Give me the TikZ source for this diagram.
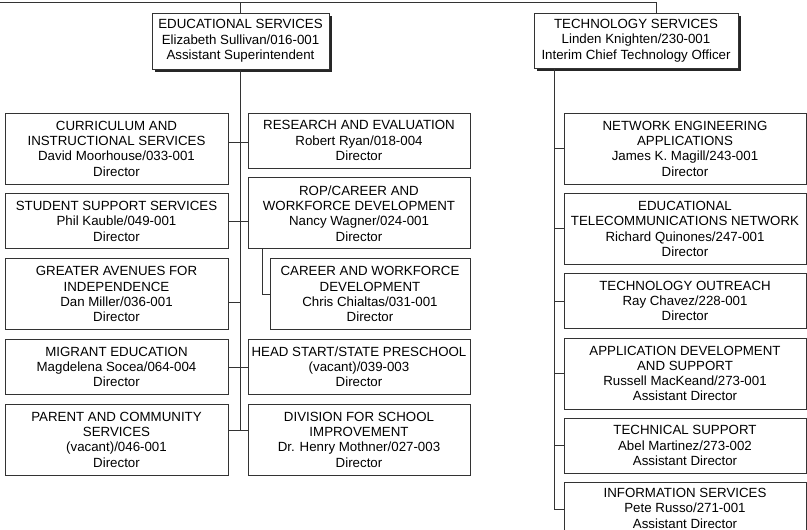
\documentclass[tikz,border=0pt]{standalone}
\usepackage{fontspec}
\setmainfont{Liberation Sans}
\usetikzlibrary{positioning,shadows}
\tikzstyle{unit} = [rectangle, draw=black!80, line width=0.8pt, fill=white, align=center, inner sep=1pt, font=\fontsize{13.3}{15.3}\selectfont]
\tikzstyle{head} = [unit, drop shadow={shadow xshift=2.5pt, shadow yshift=-2.5pt, fill=black!85, opacity=1}]
\tikzstyle{leftbox} = [unit, minimum width=223pt]
\tikzstyle{midbox} = [unit, minimum width=222pt]
\tikzstyle{subbox} = [unit, minimum width=200pt]
\tikzstyle{techbox} = [unit, minimum width=242pt]
\tikzstyle{tall} = [minimum height=71pt]
\tikzstyle{short} = [minimum height=55pt]
\tikzstyle{link} = [draw=black!80, line width=0.8pt]

\begin{document}
\begin{tikzpicture}[x=1pt,y=-1pt]
		\useasboundingbox (0,0) rectangle (807,530);
		\clip (0,0) rectangle (807,530);
		
		\node (edu-services) [head,minimum width=177pt,minimum height=56pt] at (240.5,41) {EDUCATIONAL SERVICES\\Elizabeth Sullivan/016-001\\Assistant Superintendent};
		\node (tech-services) [head,minimum width=204pt,minimum height=55pt] at (636,40.5) {TECHNOLOGY SERVICES\\Linden Knighten/230-001\\Interim Chief Technology Officer};
		
		% left column
		\node (curriculum) [leftbox,tall] at (116.5,148.5) {CURRICULUM AND\\INSTRUCTIONAL SERVICES\\David Moorhouse/033-001\\Director};
		\node (student-support) [leftbox,short,below=9pt of curriculum] {STUDENT SUPPORT SERVICES\\Phil Kauble/049-001\\Director};
		\node (greater-avenues) [leftbox,tall,below=9pt of student-support] {GREATER AVENUES FOR\\INDEPENDENCE\\Dan Miller/036-001\\Director};
		\node (migrant) [leftbox,short,below=9pt of greater-avenues] {MIGRANT EDUCATION\\Magdelena Socea/064-004\\Director};
		\node (parent) [leftbox,tall,below=9pt of migrant] {PARENT AND COMMUNITY\\SERVICES\\(vacant)/046-001\\Director};
		
		% middle column
		\node (research) [midbox,short] at (359,140.5) {RESEARCH AND EVALUATION\\Robert Ryan/018-004\\Director};
		\node (rop) [midbox,tall,below=9pt of research] {ROP/CAREER AND\\WORKFORCE DEVELOPMENT\\Nancy Wagner/024-001\\Director};
		\node (career) [subbox,tall,below=9pt of rop,xshift=11pt] {CAREER AND WORKFORCE\\DEVELOPMENT\\Chris Chialtas/031-001\\Director};
		\node (head-start) [midbox,short,below=9pt of career,xshift=-11pt] {HEAD START/STATE PRESCHOOL\\(vacant)/039-003\\Director};
		\node (division) [midbox,tall,below=9pt of head-start] {DIVISION FOR SCHOOL\\IMPROVEMENT\\Dr. Henry Mothner/027-003\\Director};
		
		% technology column
		\node (network) [techbox,tall] at (685,148.5) {NETWORK ENGINEERING\\APPLICATIONS\\James K. Magill/243-001\\Director};
		\node (telecom) [techbox,tall,below=8.5pt of network] {EDUCATIONAL\\TELECOMMUNICATIONS NETWORK\\Richard Quinones/247-001\\Director};
		\node (outreach) [techbox,short,below=8.5pt of telecom] {TECHNOLOGY OUTREACH\\Ray Chavez/228-001\\Director};
		\node (app-dev) [techbox,tall,below=8.5pt of outreach] {APPLICATION DEVELOPMENT\\AND SUPPORT\\Russell MacKeand/273-001\\Assistant Director};
		\node (tech-support) [techbox,short,below=8.5pt of app-dev] {TECHNICAL SUPPORT\\Abel Martinez/273-002\\Assistant Director};
		\node (info) [techbox,tall,below=8.5pt of tech-support] {INFORMATION SERVICES\\Pete Russo/271-001\\Assistant Director\\\strut};
		
		\coordinate (top-left) at (0,2);
		\coordinate (tech-trunk) at ([xshift=-82pt]tech-services.south);
		\coordinate (curriculum-joint) at ([yshift=6.5pt]curriculum.east);
		\coordinate (greater-joint) at ([yshift=-8.5pt]greater-avenues.east);
		\coordinate (parent-joint) at ([yshift=9pt]parent.east);
		
		\draw [link] (top-left) -| ([xshift=20pt]tech-services.north);
		\draw [link] (edu-services.north) -- (edu-services.north |- top-left);
		\draw [link] (edu-services.south) -- (edu-services.south |- parent-joint);
		
		\draw [link] (curriculum-joint) -- (curriculum-joint -| research.west);
		\draw [link] (student-support.east) -- (student-support.east -| rop.west);
		\draw [link] (greater-joint) -- (greater-joint -| edu-services.south);
		\draw [link] (migrant.east) -- (head-start.west);
		\draw [link] (parent-joint) -- (parent-joint -| division.west);
		\draw [link] ([xshift=-97pt]rop.south) |- (career.west);
		
		\draw [link] (tech-trunk) |- ([yshift=9pt]info.west);
		\foreach \n in {network,telecom,outreach,app-dev,tech-support}
			\draw [link] (\n.west) -- (\n.west -| tech-trunk);
	
	\end{tikzpicture}
\end{document}
